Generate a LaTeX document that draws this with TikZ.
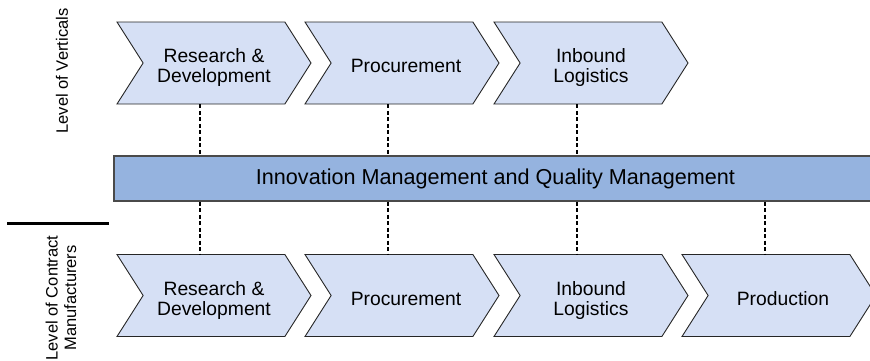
\documentclass[tikz,border=0pt]{standalone}
\usepackage{fontspec}
\setmainfont{Liberation Sans}
\usetikzlibrary{shapes.symbols}

\definecolor{chevfill}{HTML}{D6E0F5}
\definecolor{barfill}{HTML}{95B3DF}
\definecolor{barline}{HTML}{4A4A4A}

\tikzset{
  stage/.style={signal, signal from=west, signal to=east, signal pointer angle=115,
    draw=black!85, fill=chevfill, line width=0.9pt,
    minimum width=194pt, minimum height=82pt, inner sep=0pt},
  stagetext/.style={align=center, inner sep=0pt, font=\fontsize{19.3}{20}\selectfont},
  level/.style={rotate=90, align=center, font=\fontsize{16.5}{18.5}\selectfont},
  link/.style={dash pattern=on 4pt off 2.5pt, line width=1.6pt}
}

\begin{document}
\begin{tikzpicture}[x=1pt,y=-1pt]
\useasboundingbox (0,0) rectangle (870,360);

% Level labels
\node[level] (lvltop) at (62,71) {Level of Verticals};
\node[level] (lvlbot) at (61,298) {Level of Contract\\Manufacturers};

% Separator
\draw[line width=3pt] (7,223) -- (109,223);

% Verticals
\node[stage] (vrd) at (214,63) {};
\node[stage] (vpr) at (402,63) {};
\node[stage] (vil) at (591,63) {};
\node[stagetext] (vrd-t) at ([yshift=-5pt]vrd.center) {Research \&\\Development};
\node[stagetext] (vpr-t) at ([xshift=4pt,yshift=-3pt]vpr.center) {Procurement};
\node[stagetext] (vil-t) at ([yshift=-5pt]vil.center) {Inbound\\Logistics};

% Cross-cutting bar
\node[draw=barline, fill=barfill, line width=1.2pt, minimum width=763pt,
  minimum height=45pt, inner sep=0pt, font=\fontsize{21.6}{24}\selectfont]
  (qm) at (495.5,178.5) {Innovation Management and Quality Management};

% Contract manufacturers
\node[stage] (crd) at (214,295.5) {};
\node[stage] (cpr) at (402,295.5) {};
\node[stage] (cil) at (591,295.5) {};
\node[stage] (cpd) at (779,295.5) {};
\node[stagetext] (crd-t) at ([yshift=-5pt]crd.center) {Research \&\\Development};
\node[stagetext] (cpr-t) at ([xshift=4pt,yshift=-3pt]cpr.center) {Procurement};
\node[stagetext] (cil-t) at ([yshift=-5pt]cil.center) {Inbound\\Logistics};
\node[stagetext] (cpd-t) at ([xshift=4pt,yshift=-3pt]cpd.center) {Production};

% Dashed links to the bar
\foreach \n in {vrd,vpr,vil}{
  \coordinate (\n-d) at ([xshift=-14pt]\n.south);
  \draw[link] (\n-d) -- (\n-d |- qm.north);
}
\foreach \n in {crd,cpr,cil,cpd}{
  \coordinate (\n-u) at ([xshift=-14pt]\n.north);
  \draw[link] (\n-u |- qm.south) -- (\n-u);
}

\end{tikzpicture}
\end{document}
